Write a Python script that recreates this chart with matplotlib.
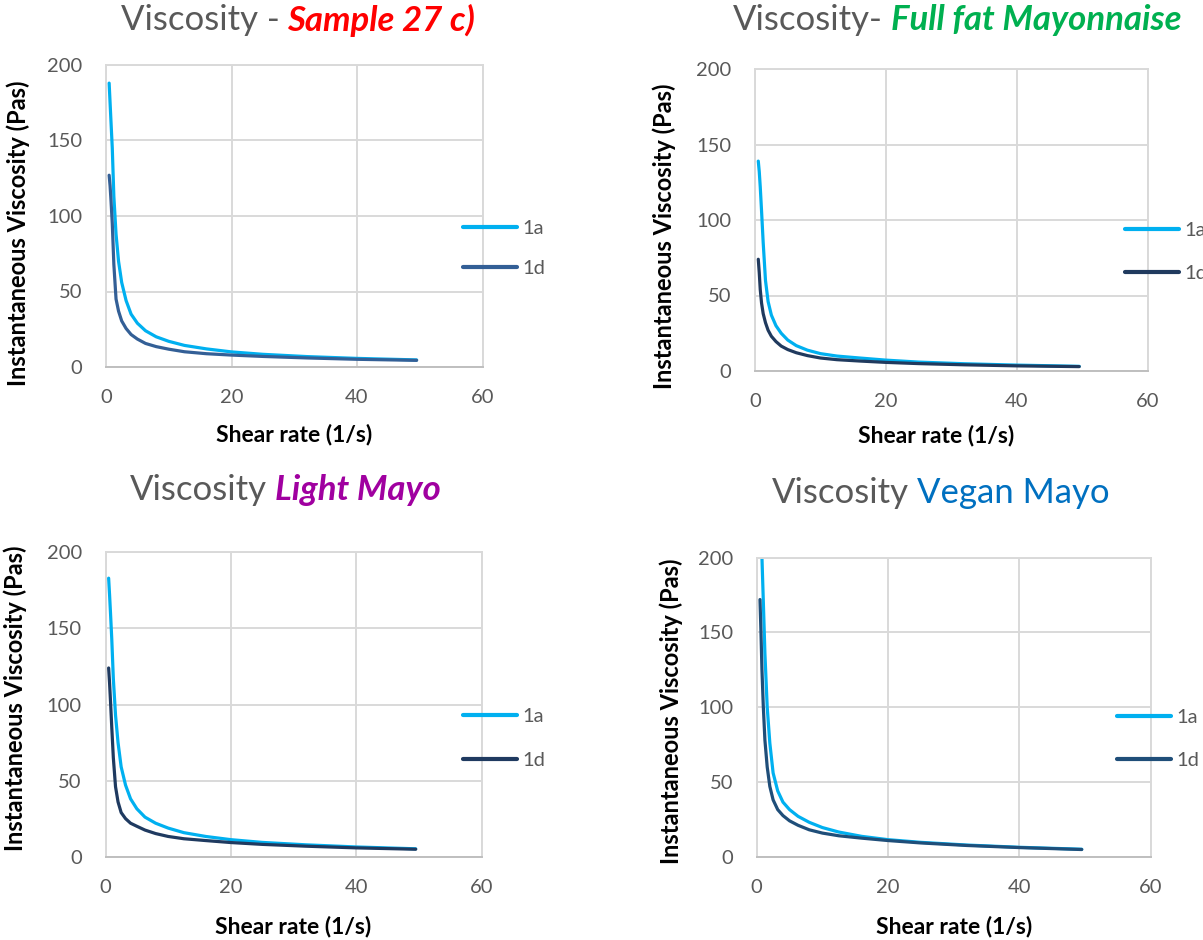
import matplotlib.pyplot as plt

plt.rcParams['font.family'] = ['Lato', 'DejaVu Sans']

# shear rate (1/s), shared by all series
shear = [0.5, 0.65, 0.8, 1.0, 1.25, 1.6, 2.0, 2.5, 3.2, 4.0, 5.0, 6.3, 8.0, 10, 12.5, 16, 20, 25, 32, 40, 49.5]

# instantaneous viscosity (Pas)
sample27_1a = [188, 175, 162, 145, 113, 88, 70, 56, 44, 35, 29, 24, 20, 17, 14.3, 12, 10, 8.4, 6.9, 5.7, 4.7]
sample27_1d = [127, 120, 110, 95, 68, 45, 37, 30.5, 25.5, 21.5, 18.5, 15.6, 13.5, 11.8, 10.1, 8.8, 7.9, 7.0, 6.0, 5.1, 4.4]
fullfat_1a = [139, 132, 122, 106, 85, 60, 46, 37, 30, 25, 20.5, 16.8, 13.8, 11.5, 9.9, 8.6, 7.2, 5.9, 4.8, 3.9, 3.1]
fullfat_1d = [74, 65, 54, 45, 38, 32, 27, 23, 19.5, 16.5, 14.2, 12.1, 10.2, 8.6, 7.5, 6.6, 5.7, 4.9, 4.1, 3.4, 2.9]
light_1a = [183, 172, 160, 143, 117, 93, 75, 59, 47, 38, 31.5, 26, 22, 18.8, 15.8, 13.3, 11.2, 9.4, 7.8, 6.4, 5.2]
light_1d = [124, 114, 102, 85, 65, 46, 36, 29, 25, 22, 20, 17.5, 15.2, 13.3, 11.8, 10.6, 9.3, 8.1, 6.9, 5.8, 4.9]
vegan_1a = [245, 225, 200, 172, 136, 100, 76, 56, 44, 36.5, 31.5, 27, 23, 19.5, 16.5, 13.6, 11.4, 9.6, 7.8, 6.3, 5.0]
vegan_1d = [172, 150, 125, 101, 78, 60, 47, 38, 31.5, 27.5, 24, 21, 18, 15.8, 14, 12.4, 10.8, 9.2, 7.5, 6.1, 4.8]

series_labels = ['1a', '1d']
x_ticks = [0, 20, 40, 60]
y_ticks = [0, 50, 100, 150, 200]

W, H = 1203, 940
GREY = '#595959'
LIGHT = '#00B0F0'

panels = [
    dict(rect=(106, 65, 482.5, 367), a=sample27_1a, d=sample27_1d, dcol='#335F96',
         t1='Viscosity -', t2='Sample 27 c)', c2='#FF0000', st2=('bold', 'italic'), tc=(298, 20),
         leg=(463, 248.4), lsp=1.15, ylab=(-0.234, 0.442), xlab=(0.5, -0.225)),
    dict(rect=(755, 69, 1148, 371), a=fullfat_1a, d=fullfat_1d, dcol='#203A5E',
         t1='Viscosity-', t2='Full fat Mayonnaise', c2='#00B050', st2=('bold', 'italic'), tc=(957, 20),
         leg=(1125, 251.7), lsp=1.3, ylab=(-0.232, 0.447), xlab=(0.46, -0.212)),
    dict(rect=(105.5, 552.3, 481.5, 856.7), a=light_1a, d=light_1d, dcol='#1F3A60',
         t1='Viscosity', t2='Light Mayo', c2='#A000A0', st2=('bold', 'italic'), tc=(285, 490),
         leg=(463, 738.7), lsp=1.35, ylab=(-0.24, 0.521), xlab=(0.5, -0.228)),
    dict(rect=(756.7, 557.7, 1150.7, 856.7), a=vegan_1a, d=vegan_1d, dcol='#1F4E79',
         t1='Viscosity', t2='Vegan Mayo', c2='#0070C0', st2=('normal', 'normal'), tc=(941, 493),
         leg=(1116.7, 739.2), lsp=1.3, ylab=(-0.217, 0.487), xlab=(0.5, -0.232)),
]

fig = plt.figure(figsize=(W / 100, H / 100), dpi=100)
titles = []

for p in panels:
    l, t, r, b = p['rect']
    ax = fig.add_axes([l / W, 1 - b / H, (r - l) / W, (b - t) / H])
    ax.plot(shear, p['a'], color=LIGHT, lw=2.3, solid_capstyle='round', label=series_labels[0])
    ax.plot(shear, p['d'], color=p['dcol'], lw=2.3, solid_capstyle='round', label=series_labels[1])
    ax.set_xlim(0, 60)
    ax.set_ylim(0, 200)
    ax.set_xticks(x_ticks)
    ax.set_yticks(y_ticks)
    ax.grid(True, color='#D9D9D9', lw=1.4)
    ax.set_axisbelow(True)
    for s in ax.spines.values():
        s.set_color('#D9D9D9')
        s.set_linewidth(1.4)
    ax.spines['bottom'].set_color('#BFBFBF')
    ax.tick_params(length=0, labelsize=14.5, labelcolor=GREY)
    ax.tick_params(axis='y', pad=17)
    ax.tick_params(axis='x', pad=16)
    ax.text(*p['xlab'], 'Shear rate (1/s)', transform=ax.transAxes, ha='center', va='center',
            fontsize=16.5, fontweight='bold', color='black')
    ax.text(*p['ylab'], 'Instantaneous Viscosity (Pas)', transform=ax.transAxes, ha='center',
            va='center', rotation=90, fontsize=17, fontweight='bold', color='black')
    lx, ly = p['leg']
    leg = ax.legend(loc='center left', bbox_to_anchor=(lx / W, 1 - ly / H), bbox_transform=fig.transFigure,
                    frameon=False, fontsize=14.5, handlelength=2.7, handletextpad=0.25,
                    labelspacing=p['lsp'], borderpad=0, borderaxespad=0)
    for txt in leg.get_texts():
        txt.set_color(GREY)
    for ln in leg.get_lines():
        ln.set_linewidth(3)
    leg.set_clip_on(False)

    t1 = fig.text(0, 1 - p['tc'][1] / H, p['t1'], fontsize=25, color=GREY, va='center')
    t2 = fig.text(0, 1 - p['tc'][1] / H, p['t2'], fontsize=25, color=p['c2'], va='center',
                  fontweight=p['st2'][0], fontstyle=p['st2'][1])
    titles.append((t1, t2, p['tc'][0]))

fig.canvas.draw()
rend = fig.canvas.get_renderer()
gap = 8
for t1, t2, xc in titles:
    w1 = t1.get_window_extent(rend).width
    w2 = t2.get_window_extent(rend).width
    x0 = xc - (w1 + gap + w2) / 2
    t1.set_x(x0 / W)
    t2.set_x((x0 + w1 + gap) / W)

fig.savefig('out.png', dpi=100, facecolor='white')
